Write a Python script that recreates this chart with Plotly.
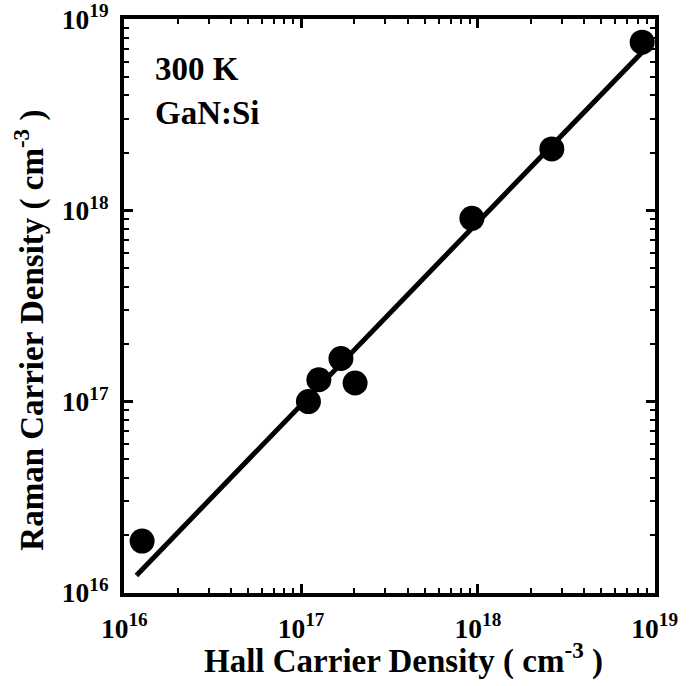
import plotly.graph_objects as go

# Data
hall = [1.26e16, 1.10e17, 1.26e17, 1.68e17, 2.02e17, 9.25e17, 2.62e18, 8.5e18]
raman = [1.86e16, 1.0e17, 1.30e17, 1.68e17, 1.25e17, 9.1e17, 2.1e18, 7.6e18]
fit_x = [1.17e16, 9.1e18]
fit_y = [1.23e16, 7.2e18]
tick_exps = [16, 17, 18, 19]

FONT = "Liberation Serif"

fig = go.Figure()
fig.add_trace(go.Scatter(x=fit_x, y=fit_y, mode="lines",
                         line=dict(color="black", width=5), showlegend=False))
fig.add_trace(go.Scatter(x=hall, y=raman, mode="markers",
                         marker=dict(color="black", size=25), showlegend=False))

EPS = 0.002
axis_common = dict(
    type="log", showgrid=False, zeroline=False,
    showline=True, linewidth=4, linecolor="black", mirror="allticks",
    ticks="inside", ticklen=9, tickwidth=3, tickcolor="black",
    tickmode="linear", tick0=tick_exps[0], dtick=1,
    exponentformat="power", ticklabeloverflow="allow",
    tickfont=dict(family=FONT, size=22, color="black", weight="bold"),
    minor=dict(ticks="inside", dtick="D1", ticklen=5, tickwidth=2,
               tickcolor="black", showgrid=False),
    range=[tick_exps[0] - EPS, tick_exps[-1] + EPS],
    automargin=False,
)

fig.update_layout(
    width=692, height=686,
    margin=dict(l=124, r=37, t=19, b=93),
    paper_bgcolor="white", plot_bgcolor="white",
    font=dict(family=FONT, color="black"),
    xaxis=dict(axis_common, ticklabelstandoff=9),
    yaxis=dict(axis_common, ticklabelstandoff=7),
    annotations=[
        dict(text="<b>300 K</b>", x=0.055, y=0.913, xref="paper", yref="paper",
             xanchor="left", yanchor="middle", showarrow=False,
             font=dict(family=FONT, size=33, color="black")),
        dict(text="<b>GaN:Si</b>", x=0.055, y=0.836, xref="paper", yref="paper",
             xanchor="left", yanchor="middle", showarrow=False,
             font=dict(family=FONT, size=33, color="black")),
        dict(text="<b>Hall Carrier Density ( cm<sup>-3</sup> )</b>",
             x=0.527, y=-0.1146, xref="paper", yref="paper",
             xanchor="center", yanchor="middle", showarrow=False,
             font=dict(family=FONT, size=33, color="black")),
        dict(text="<b>Raman Carrier Density ( cm<sup>-3</sup> )</b>",
             x=-0.177, y=0.457, xref="paper", yref="paper", textangle=-90,
             xanchor="center", yanchor="middle", showarrow=False,
             font=dict(family=FONT, size=33, color="black")),
    ],
)
fig.write_html("out.html")
